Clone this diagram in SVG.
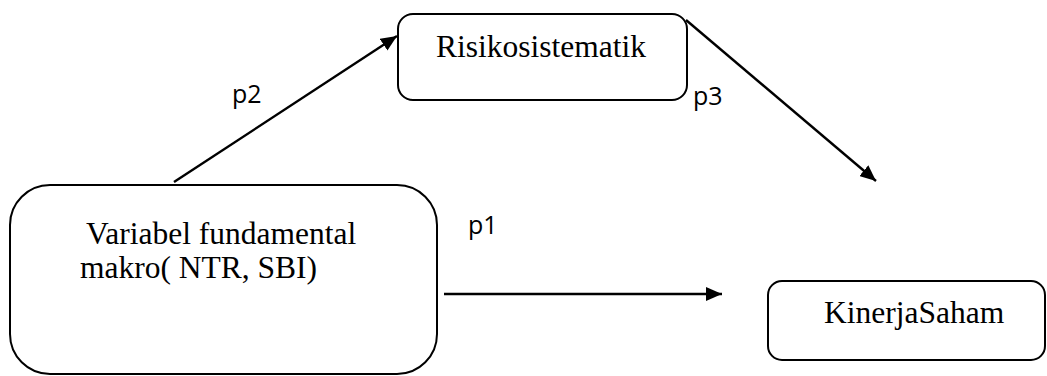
<svg xmlns="http://www.w3.org/2000/svg" width="1047" height="376" viewBox="0 0 1047 376">
<style>
.box{fill:#fff;stroke:#000;stroke-width:2}
.t{font-family:"Liberation Serif","Times New Roman",serif;font-size:31.5px;fill:#000}
.lbl{font-family:"Open Sans","DejaVu Sans",sans-serif;font-size:25px;fill:#000}
.c{stroke:#000;stroke-width:2.4;fill:none}
</style>
<defs>
<marker id="ah" viewBox="0 0 16 14" refX="16" refY="7" markerWidth="16" markerHeight="14" markerUnits="userSpaceOnUse" orient="auto">
<path d="M0,0 L16,7 L0,14 Z" fill="#000"/>
</marker>
</defs>
<rect width="1047" height="376" fill="#fff"/>
<g id="connectors">
<line class="c" x1="174" y1="182" x2="397" y2="36" marker-end="url(#ah)"/>
<line class="c" x1="686" y1="20" x2="876" y2="181" marker-end="url(#ah)"/>
<line class="c" x1="444" y1="294" x2="722" y2="294" marker-end="url(#ah)"/>
<text class="lbl" x="232" y="103">p2</text>
<text class="lbl" x="693" y="105">p3</text>
<text class="lbl" x="468" y="234">p1</text>
</g>
<g id="risiko">
<rect class="box" x="398" y="14" width="289" height="86" rx="15"/>
<text class="t" x="436" y="57">Risikosistematik</text>
</g>
<g id="variabel">
<rect class="box" x="10" y="185" width="427" height="189" rx="40"/>
<text class="t" x="86" y="244">Variabel fundamental</text>
<text class="t" x="80" y="278">makro( NTR, SBI)</text>
</g>
<g id="kinerja">
<rect class="box" x="768" y="281" width="277" height="79" rx="14"/>
<text class="t" x="824" y="323">KinerjaSaham</text>
</g>
</svg>
